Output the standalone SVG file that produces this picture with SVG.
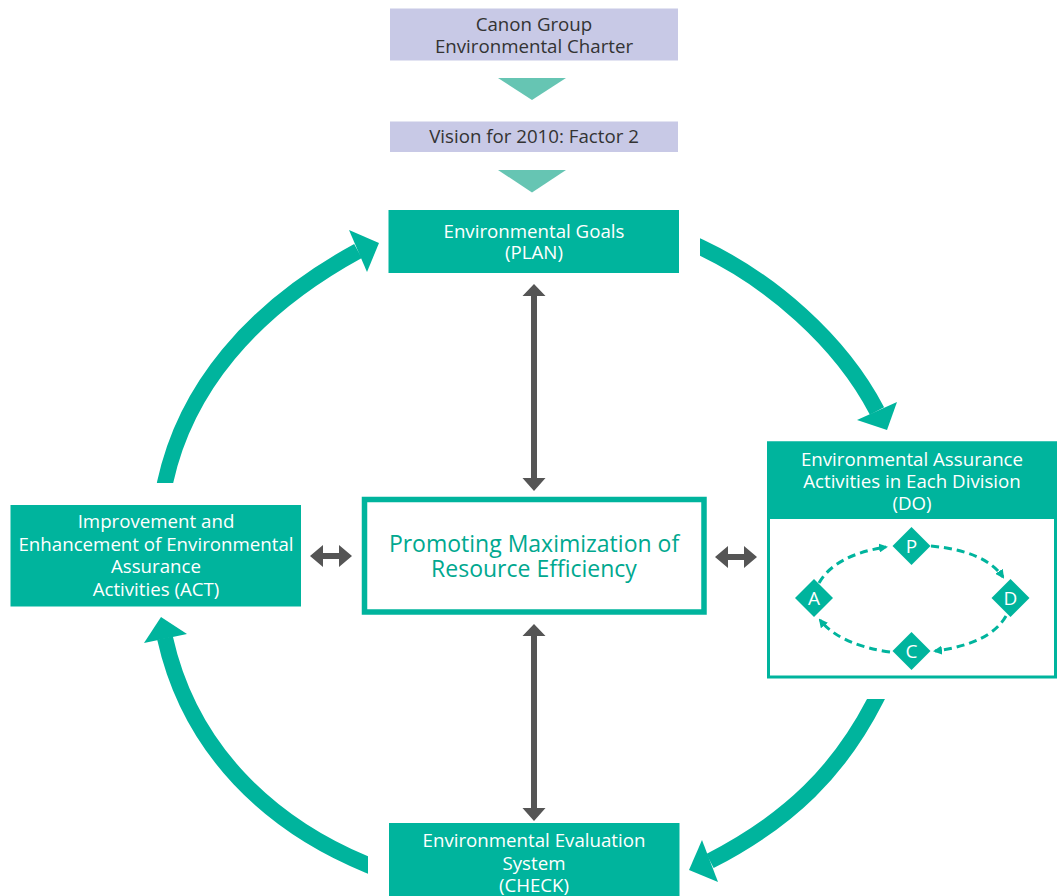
<svg xmlns="http://www.w3.org/2000/svg" width="1057" height="896" viewBox="0 0 1057 896">
<style>
text{font-family:"Open Sans","Noto Sans","Liberation Sans",sans-serif;text-anchor:middle}
.dk{fill:#333333;font-size:18.7px}
.wt{fill:#ffffff;font-size:18.7px}
.ctr{fill:#00a88f;font-size:23px}
.lav{fill:#c8c9e6}
.teal{fill:#00b49d}
.big{fill:none;stroke:#00b49d;stroke-width:16}
.dash{fill:none;stroke:#00b49d;stroke-width:3;stroke-dasharray:8 5}
.gray{fill:#555555}
.lt{fill:#ffffff;font-size:19px}
</style>
<defs>
<marker id="sm" markerWidth="9" markerHeight="9" refX="7" refY="4.5" orient="auto" markerUnits="userSpaceOnUse">
<path d="M0,0 L9,4.5 L0,9 Z" fill="#00b49d"/>
</marker>
<clipPath id="c1"><rect x="700" y="200" width="357" height="300"/></clipPath>
<clipPath id="c2"><rect x="600" y="699" width="400" height="197"/></clipPath>
<clipPath id="c3"><rect x="100" y="600" width="268" height="296"/></clipPath>
<clipPath id="c4"><rect x="100" y="200" width="300" height="283"/></clipPath>
</defs>

<g id="charter">
<rect class="lav" x="390" y="8.5" width="288" height="52"/>
<text class="dk" x="534" y="30.5">Canon Group</text>
<text class="dk" x="534" y="52.5">Environmental Charter</text>
</g>
<g id="vision">
<rect class="lav" x="390" y="121.5" width="288" height="30.5"/>
<text class="dk" x="534" y="142.5">Vision for 2010: Factor 2</text>
</g>
<g id="plan">
<rect class="teal" x="388.5" y="210" width="290.5" height="63"/>
<text class="wt" x="534" y="237.5">Environmental Goals</text>
<text class="wt" x="534" y="259">(PLAN)</text>
</g>
<g id="center">
<rect x="364.5" y="499.5" width="339.5" height="112.5" fill="#ffffff" stroke="#00b49d" stroke-width="5.5"/>
<text class="ctr" x="534" y="551.5">Promoting Maximization of</text>
<text class="ctr" x="534" y="577">Resource Efficiency</text>
</g>
<g id="act">
<rect class="teal" x="10.5" y="505" width="290.5" height="101.5"/>
<text class="wt" x="156" y="527.5">Improvement and</text>
<text class="wt" x="156" y="550.5">Enhancement of Environmental</text>
<text class="wt" x="156" y="573">Assurance</text>
<text class="wt" x="156" y="596">Activities (ACT)</text>
</g>
<g id="do">
<rect x="768.5" y="443" width="287" height="234" fill="#ffffff" stroke="#00b49d" stroke-width="3"/>
<rect class="teal" x="767" y="441.5" width="290" height="77.5"/>
<text class="wt" x="912" y="466">Environmental Assurance</text>
<text class="wt" x="912" y="487.5">Activities in Each Division</text>
<text class="wt" x="912" y="509.5">(DO)</text>
</g>
<g id="pdca">
<path class="dash" d="M819,583 Q835,555 886,547" marker-end="url(#sm)"/>
<path class="dash" d="M931,546 Q985,551 1003,577" marker-end="url(#sm)"/>
<path class="dash" d="M1006,616 Q990,644 935,651" marker-end="url(#sm)"/>
<path class="dash" d="M890,652 Q840,645 820,620" marker-end="url(#sm)"/>
<g id="node-p"><polygon class="teal" points="911.5,527 930.5,546 911.5,565 892.5,546"/><text class="lt" x="911.5" y="552.5">P</text></g>
<g id="node-d"><polygon class="teal" points="1010.5,579 1029.5,598 1010.5,617 991.5,598"/><text class="lt" x="1010.5" y="604.5">D</text></g>
<g id="node-c"><polygon class="teal" points="911.5,632 930.5,651 911.5,670 892.5,651"/><text class="lt" x="911.5" y="657.5">C</text></g>
<g id="node-a"><polygon class="teal" points="814,579 833,598 814,617 795,598"/><text class="lt" x="814" y="604.5">A</text></g>
</g>
<g id="check">
<rect class="teal" x="389" y="823" width="290.5" height="73"/>
<text class="wt" x="534" y="847">Environmental Evaluation</text>
<text class="wt" x="534" y="869.5">System</text>
<text class="wt" x="534" y="892">(CHECK)</text>
</g>

<g id="connectors">
<polygon points="498,78 566,78 532,100" fill="#66c5b3"/>
<polygon points="498,170 566,170 532,192.5" fill="#66c5b3"/>

<path class="big" clip-path="url(#c1)" d="M688,241.5 L700,247 C770,280 840,340 877,411"/>
<polygon class="teal" points="887,430 857,420 897,402"/>
<path class="big" clip-path="url(#c2)" d="M882,687 L876,699 C840,770 790,820 710,861"/>
<polygon class="teal" points="689,870 702,840 718,882"/>
<path class="big" clip-path="url(#c3)" d="M380,870 L368,865 C270,825 190,750 165,638"/>
<polygon class="teal" points="161,617 144,643 187,634"/>
<path class="big" clip-path="url(#c4)" d="M162.5,495 L165,483 C185,390 250,310 358,251"/>
<polygon class="teal" points="379,243 349,230 367,272"/>

<g class="gray">
<polygon points="534,284 545.5,296 537,296 537,478 545.5,478 534,491 522.5,478 531,478 531,296 522.5,296"/>
<polygon points="534,624 545.5,636 537,636 537,808 545.5,808 534,821 522.5,808 531,808 531,636 522.5,636"/>
<polygon points="310,556 323,545 323,553 339,553 339,545 352,556 339,567 339,559 323,559 323,567"/>
<polygon points="715,557 728,546 728,554 744,554 744,546 757,557 744,568 744,560 728,560 728,568"/>
</g>
</g>
</svg>
